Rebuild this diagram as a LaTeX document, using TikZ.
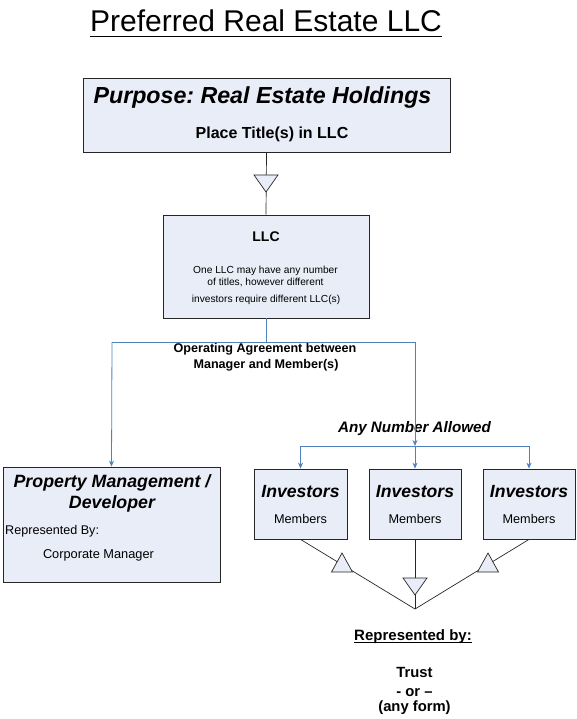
\documentclass[tikz,border=0pt]{standalone}
\usepackage{fontspec}
\setmainfont{Liberation Sans}
\usetikzlibrary{arrows.meta,shadows}
\definecolor{boxfill}{HTML}{E9EDF7}
\definecolor{conn}{HTML}{4F81BD}
\definecolor{shadowc}{HTML}{6F6F6F}
\frenchspacing
\tikzset{
  box/.style={draw=black!85, line width=0.8pt, fill=boxfill, inner sep=0pt,
    drop shadow={shadow xshift=1.3pt, shadow yshift=-1.3pt, fill=shadowc, opacity=1}},
  txt/.style={inner sep=0pt, anchor=base},
  bconn/.style={draw=conn, line width=0.8pt},
  barrow/.style={bconn, -{Stealth[length=6pt,width=5pt]}},
  kconn/.style={draw=black!85, line width=0.7pt},
  tri/.style={draw=black!85, line width=0.7pt, fill=boxfill},
}
\begin{document}
\begin{tikzpicture}[x=1pt,y=-1pt]
\useasboundingbox (0,0) rectangle (577,719);

% title
\node[txt, font=\fontsize{30}{32}\selectfont] (title) at (266,32) {Preferred Real Estate LLC};
\draw[line width=1.6pt] ([yshift=-4.5pt]title.base west) -- ([yshift=-4.5pt]title.base east);

% boxes
\node[box, minimum width=367pt, minimum height=74pt] (top) at (266.5,115) {};
\node[box, minimum width=206pt, minimum height=103pt] (llc) at (266,266.5) {};
\node[box, minimum width=217pt, minimum height=115pt] (prop) at (111.5,524.5) {};
\node[box, minimum width=93pt, minimum height=70pt] (inv1) at (300.5,504) {};
\node[box, minimum width=92pt, minimum height=70pt] (inv2) at (415,504) {};
\node[box, minimum width=92pt, minimum height=70pt] (inv3) at (529,504) {};

% box texts
\node[txt, font=\fontsize{23.2}{26}\selectfont\bfseries\itshape] (purp) at (262.5,104) {Purpose: Real Estate Holdings};
\node[txt, font=\fontsize{16}{18}\selectfont\bfseries] (place) at (272,139) {Place Title(s) in LLC};
\node[txt, font=\fontsize{14}{16}\selectfont\bfseries] (llct) at (266,241) {LLC};
\node[txt, font=\fontsize{10.2}{12}\selectfont] (l1) at (265.5,273) {One LLC may have any number};
\node[txt, font=\fontsize{10.2}{12}\selectfont] (l2) at (265.5,285.5) {of titles, however different};
\node[txt, font=\fontsize{10.2}{12}\selectfont] (l3) at (266,302) {investors require different LLC(s)};

\node[txt, font=\fontsize{17.8}{20}\selectfont\bfseries\itshape] (p1) at (112,487) {Property Management /};
\node[txt, font=\fontsize{17.8}{20}\selectfont\bfseries\itshape] (p2) at (112,508) {Developer};
\node[txt, anchor=base west, font=\fontsize{12.6}{14}\selectfont] (p3) at (5,534) {Represented By:};
\node[txt, font=\fontsize{12.8}{14}\selectfont] (p4) at (98.5,558) {Corporate Manager};

\foreach \i/\x in {1/300.5,2/415,3/529}{
  \node[txt, font=\fontsize{17.6}{20}\selectfont\bfseries\itshape] (it\i) at (\x,497) {Investors};
  \node[txt, font=\fontsize{12.7}{14}\selectfont] (im\i) at (\x,523) {Members};
}

% labels
\node[txt, font=\fontsize{12.6}{14}\selectfont\bfseries] (op1) at (265,352) {Operating Agreement between};
\node[txt, font=\fontsize{12.6}{14}\selectfont\bfseries] (op2) at (266,368) {Manager and Member(s)};
\node[txt, font=\fontsize{15.2}{17}\selectfont\bfseries\itshape] (any) at (414.5,432) {Any Number Allowed};

\node[txt, font=\fontsize{15}{17}\selectfont\bfseries] (rep) at (413,640) {Represented by:};
\draw[line width=1pt] ([yshift=-2.8pt]rep.base west) -- ([yshift=-2.8pt]rep.base east);
\node[txt, font=\fontsize{14.8}{17}\selectfont\bfseries] (trust) at (414.5,677) {Trust};
\node[txt, font=\fontsize{14.8}{17}\selectfont\bfseries] (or) at (414.5,696) {- or --};
\node[txt, font=\fontsize{14.8}{17}\selectfont\bfseries] (anyf) at (414.5,711) {(any form)};

% top connector
\draw[kconn] (top.south) -- (llc.north);
\draw[tri] (254,175) -- (278,175) -- (266,192) -- cycle;

% blue connectors
\coordinate (split) at (266,342);
\coordinate (sl) at (112,342);
\coordinate (sr) at (415,342);
\coordinate (bm) at (415,446);
\coordinate (bl) at (300.5,446);
\coordinate (br) at (529,446);
\draw[bconn] (llc.south) -- (split);
\draw[bconn] (sl) -- (sr);
\draw[barrow] (sl) -- (prop.north);
\draw[barrow] (sr) -- (bm);
\draw[bconn] (bl) -- (br);
\draw[barrow] (bm) -- (inv2.north);
\draw[barrow] (bl) -- (inv1.north);
\draw[barrow] (br) -- (inv3.north);

% bottom connectors
\coordinate (join) at (415,609);
\draw[kconn] (inv1.south) -- (join);
\draw[kconn] (inv2.south) -- (join);
\draw[kconn] (inv3.south) -- (join);
\draw[tri] (342,553) -- (331.5,572) -- (352.5,572) -- cycle;
\draw[tri] (488,553) -- (477.5,572) -- (498.5,572) -- cycle;
\draw[tri] (403,578) -- (427,578) -- (415,595) -- cycle;
\end{tikzpicture}
\end{document}
